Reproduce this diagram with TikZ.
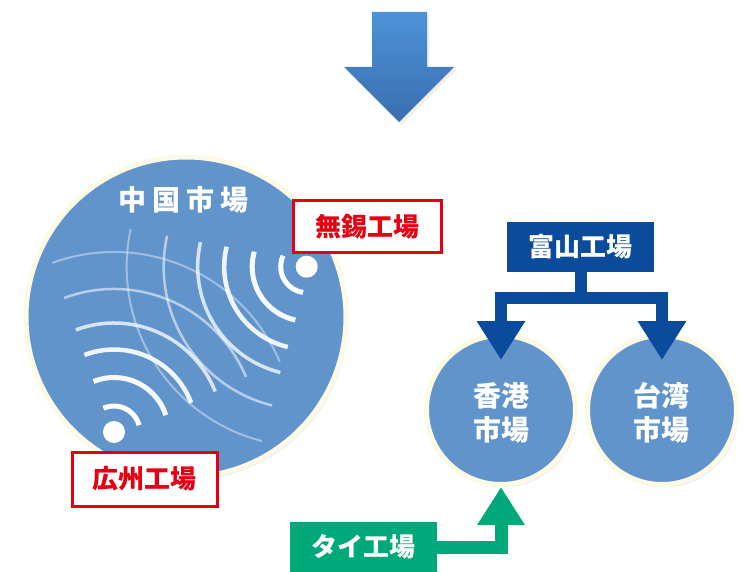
\documentclass[tikz,border=0pt]{standalone}
\usepackage{fontspec}
\newfontfamily\jp{Noto Sans CJK JP}
\usepackage{tikz}
\usetikzlibrary{arrows.meta,calc,shadows}
\definecolor{mktblue}{HTML}{6294CC}
\definecolor{rimcream}{HTML}{FCF9E4}
\definecolor{plantred}{HTML}{E60012}
\definecolor{plantblue}{HTML}{0A4B9C}
\definecolor{plantgreen}{HTML}{00A97A}
\definecolor{flowtop}{HTML}{4C92D8}
\definecolor{flowbot}{HTML}{3A6EAF}

\begin{document}
\begin{tikzpicture}[x=1pt,y=-1pt,
  softshadow/.style={drop shadow={opacity=0.14,shadow xshift=2pt,shadow yshift=-3pt}},
  market/.style={circle,draw=rimcream,line width=5pt,fill=mktblue,inner sep=0pt,
    minimum size=#1,softshadow},
  jptext/.style={font=\jp\bfseries\fontsize{#1}{#1}\selectfont},
  redplant/.style={draw=plantred,line width=3pt,fill=white,text=plantred,jptext=26,
    minimum width=148pt,minimum height=51pt,inner sep=0pt},
  plant/.style={fill=#1,text=white,jptext=26,minimum width=147pt,minimum height=50pt,inner sep=0pt},
  tree/.style={draw=plantblue,line width=12pt,line join=miter,-{Triangle[width=46pt,length=39pt]}},
  thai/.style={draw=plantgreen,line width=13pt,line join=miter,-{Triangle[width=45pt,length=38pt]}}]
\useasboundingbox (0,0) rectangle (744,572);

\shade[top color=flowtop,bottom color=flowbot,softshadow]
  (372,12) -- (427,12) -- (427,67) -- (454,67) -- (399,122) -- (344,67) -- (372,67) -- cycle;

\node[market=320pt] (china) at (186,317) {};
\node[text=white,jptext=28] (chinalbl) at (183.5,200) {中\hspace{6pt}国\hspace{6pt}市\hspace{6pt}場};

\coordinate (gzsrc) at (114,432);
\coordinate (wxsrc) at (306.7,266.7);
\foreach \r/\w/\o/\a/\b in {26/5pt/1/114/15,54.5/5pt/.95/112/18,82.5/4.5pt/.9/111/20.7,
    109/3.5pt/.75/110.5/21.8,143/2.5pt/.55/110.4/22.6,180/2pt/.4/110/23}
  \draw[white,line width=\w,opacity=\o] (gzsrc) ++(-\a:\r) arc[start angle=-\a,end angle=-\b,radius=\r];
\foreach \r/\w/\o/\a/\b in {26/5pt/1/155/262,54.5/5pt/.95/164/258,82.5/4.5pt/.9/166/256.7,
    109/3.5pt/.75/167/256,143/2.5pt/.55/167.5/256,180/2pt/.4/168/255.6}
  \draw[white,line width=\w,opacity=\o] (wxsrc) ++(-\a:\r) arc[start angle=-\a,end angle=-\b,radius=\r];
\fill[white] (gzsrc) circle[radius=11];
\fill[white] (wxsrc) circle[radius=11];

\node[redplant] (wuxi) at (367.5,226.5) {無錫工場};
\node[redplant,minimum width=145pt,minimum height=54pt] (guangzhou) at (144.5,479) {広州工場};

\node[market=149pt] (hk) at (501,410) {};
\node[market=149pt] (tw) at (662,410) {};
\node[text=white,jptext=28,align=center] (hklbl) at (501,413) {香港\\[6pt]市場};
\node[text=white,jptext=28,align=center] (twlbl) at (661,413) {台湾\\[6pt]市場};

\node[plant=plantblue] (toyama) at (580.5,247) {富山工場};
\coordinate (hkin) at ($(hk.north)+(0,27)$);
\coordinate (twin) at ($(tw.north)+(0,27)$);
\draw[tree] (toyama.south) -- ++(0,26) -| (hkin);
\draw[tree] (toyama.south) -- ++(0,26) -| (twin);

\node[plant=plantgreen] (tai) at (363.5,547) {タイ工場};
\draw[thai] (tai.east) -| (hk.south);
\end{tikzpicture}
\end{document}
